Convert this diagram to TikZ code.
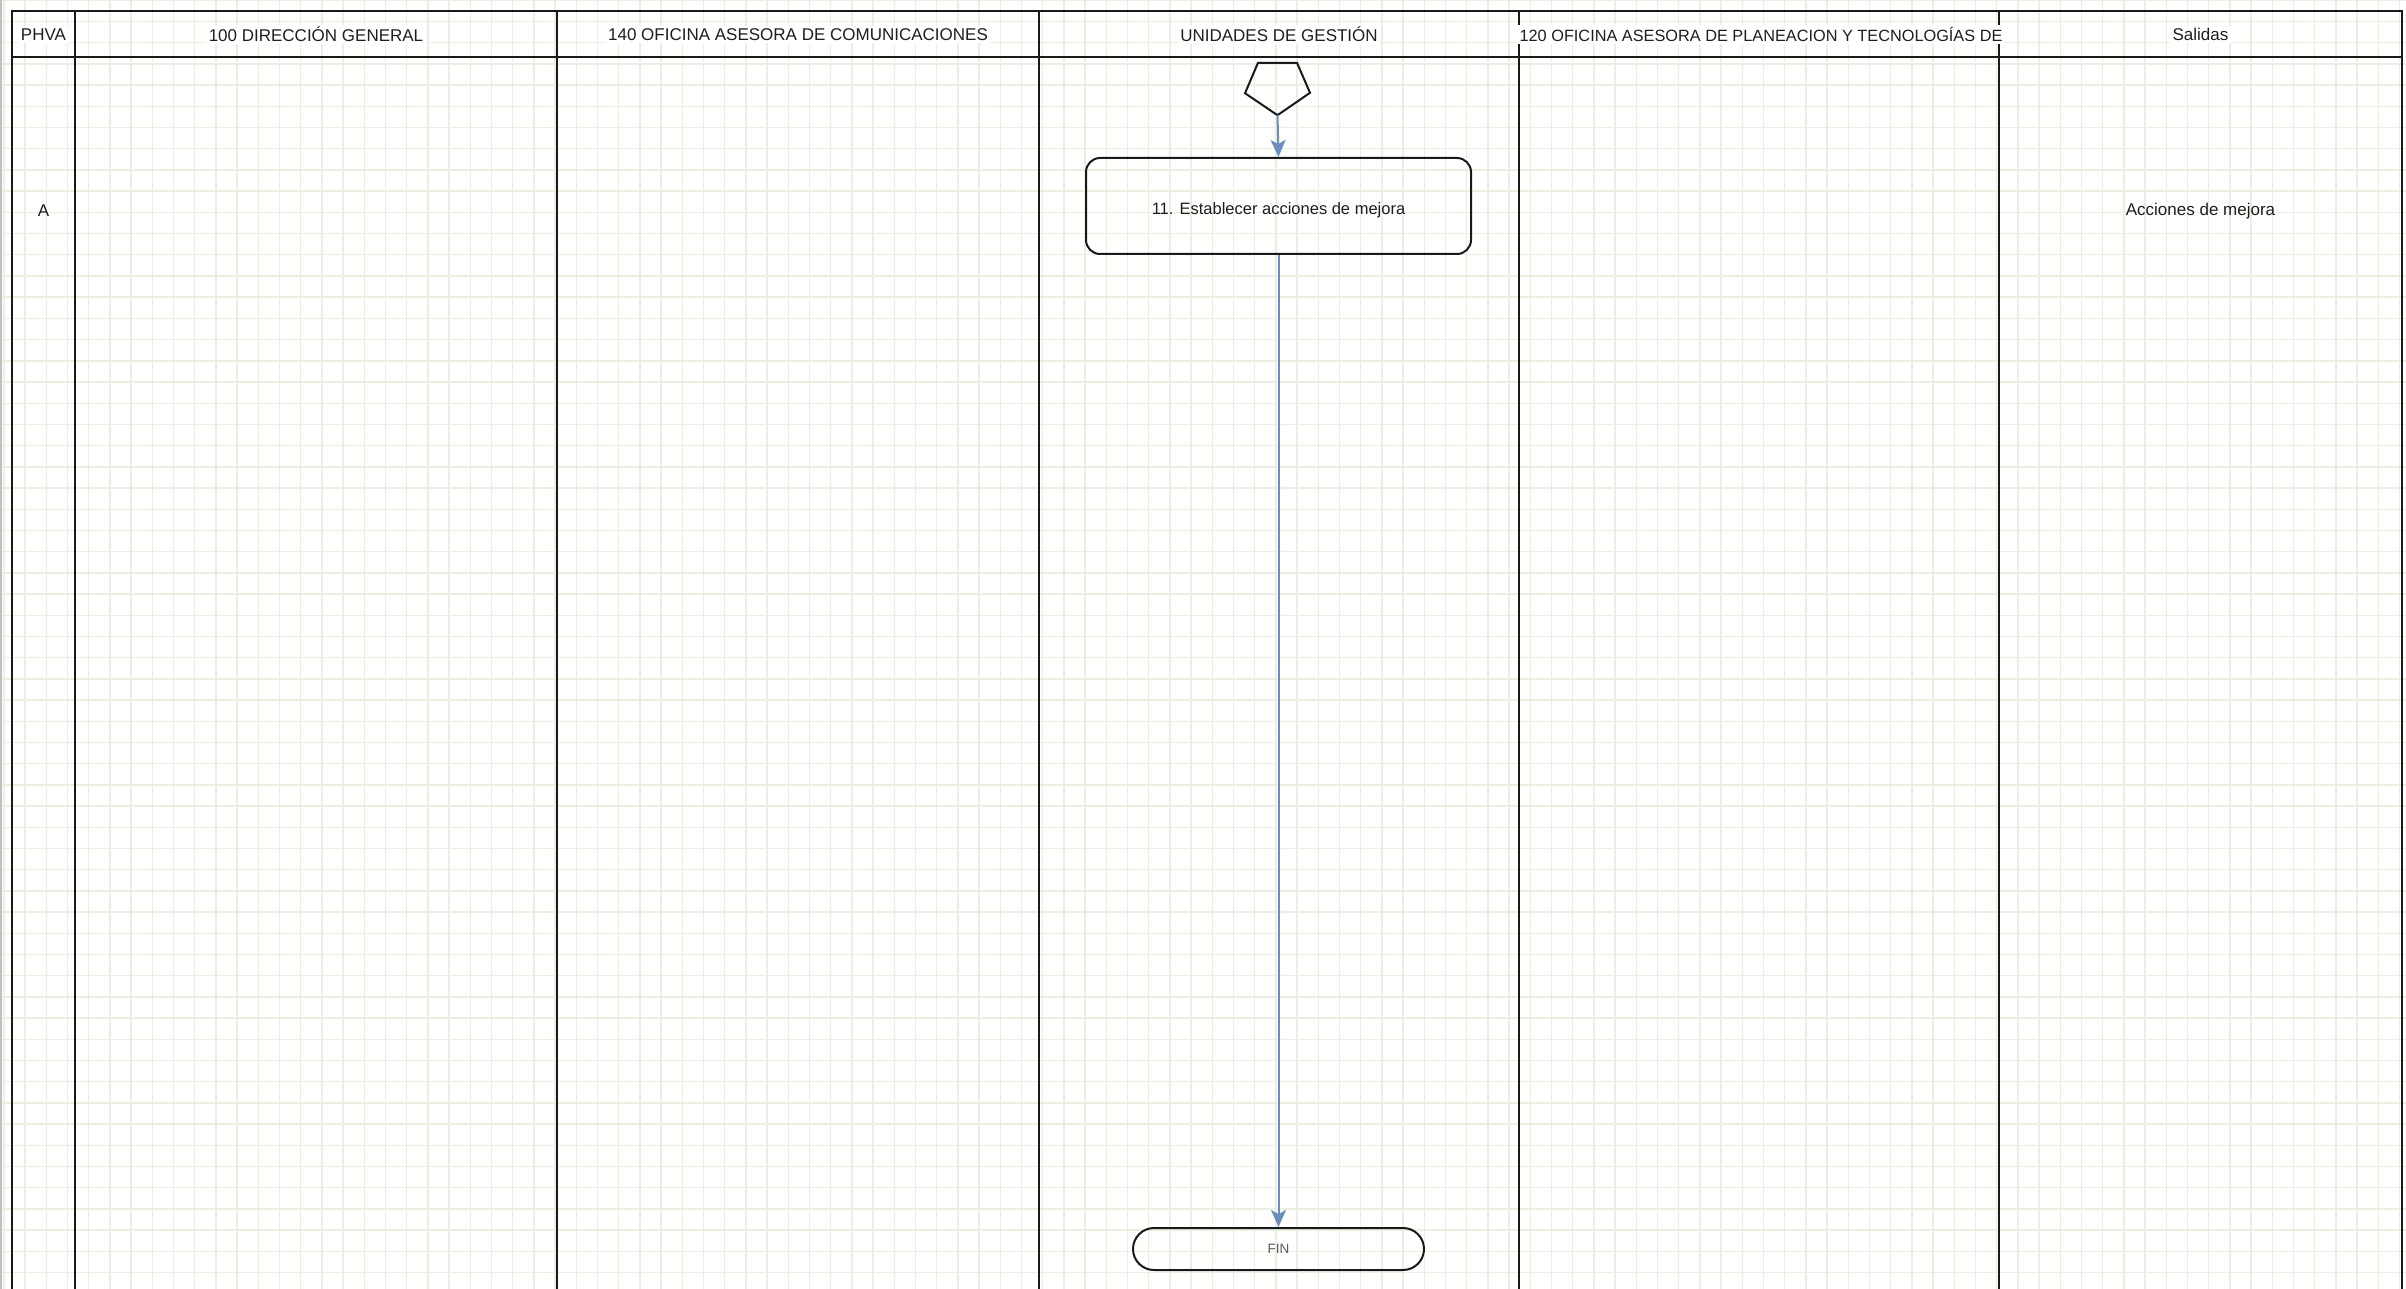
\documentclass[tikz,border=0pt]{standalone}
\usepackage{fontspec}
\setmainfont{Liberation Sans}
\usetikzlibrary{arrows.meta,calc}
\definecolor{gridc}{RGB}{233,240,225}
\definecolor{flowblue}{RGB}{108,142,191}
\definecolor{txt}{RGB}{30,30,30}
\definecolor{fintxt}{RGB}{90,90,90}
\begin{document}
\begin{tikzpicture}[x=1pt,y=-1pt,
  gridline/.style={draw=gridc,line width=1.4pt},
  frameline/.style={draw=black!90,line width=2pt},
  hdr/.style={fill=white,inner sep=2.5pt,text=txt,font=\fontsize{17}{20}\selectfont},
  lbl/.style={inner sep=1pt,text=txt,font=\fontsize{17}{20}\selectfont},
  stepbox/.style={draw=black!90,line width=2pt,rounded corners=14pt,inner sep=0pt,
    minimum width=385pt,minimum height=96pt,text height=21pt,text=txt,font=\fontsize{16.5}{20}\selectfont},
  endbox/.style={draw=black!90,line width=2pt,rounded corners=21pt,inner sep=0pt,
    minimum width=291pt,minimum height=42pt,text=fintxt,font=\fontsize{13.5}{16}\selectfont},
  flow/.style={draw=flowblue,line width=2pt,-{Stealth[length=17pt,width=15pt,inset=4pt,fill=flowblue]}},
  shapeline/.style={draw=black!90,line width=2pt,line join=miter}
]
\useasboundingbox (0,0) rectangle (2406,1289);
\fill[white] (0,0) rectangle (2406,1289);
% grid
\foreach \n in {0,...,113} {\draw[gridline] ({3.8+21.2*\n},0) -- ({3.8+21.2*\n},1289);}
\foreach \n in {0,...,60} {\draw[gridline] (0,{0.4+21.2*\n}) -- (2406,{0.4+21.2*\n});}
\draw[black!25,line width=1.5pt] (0.75,0) -- (0.75,1289);
% frame
\draw[frameline] (12,1295) -- (12,11) -- (2402,11) -- (2402,1295);
\draw[frameline] (12,57) -- (2402,57);
\foreach \x in {75,557,1039,1519,1999} {\draw[frameline] (\x,11) -- (\x,1295);}
% headers
\node[hdr] (h0) at (43.5,34.5) {PHVA};
\node[hdr] (h1) at (316,34.5) {100 DIRECCIÓN GENERAL};
\node[hdr] (h2) at (798,34.5) {140 OFICINA ASESORA DE COMUNICACIONES};
\node[hdr] (h3) at (1279,34.5) {UNIDADES DE GESTIÓN};
\node[hdr,font=\fontsize{16.3}{20}\selectfont] (h4) at (1761,34.5) {120 OFICINA ASESORA DE PLANEACION Y TECNOLOGÍAS DE};
\node[hdr] (h5) at (2200.5,34.5) {Salidas};
% row labels
\node[lbl] (phase) at (43.5,211) {A};
\node[lbl] (out1) at (2200.5,211) {Acciones de mejora};
% off-page connector (pentagon)
\node[inner sep=0pt,minimum width=65pt,minimum height=52pt] (pent) at (1277.5,89) {};
\draw[shapeline] ($(pent.north)+(-19.5,0)$) -- ++(39,0) -- ++(13,30) -- (pent.south) -- ++(-32.5,-22) -- cycle;
% activity
\node[stepbox] (b11) at (1278.5,206) {11. Establecer acciones de mejora};
% end
\node[endbox] (fin) at (1278.5,1249) {FIN};
% connectors
\draw[flow] (pent.south) -- (b11.north);
\draw[flow] (b11.south) -- (fin.north);
\end{tikzpicture}
\end{document}
